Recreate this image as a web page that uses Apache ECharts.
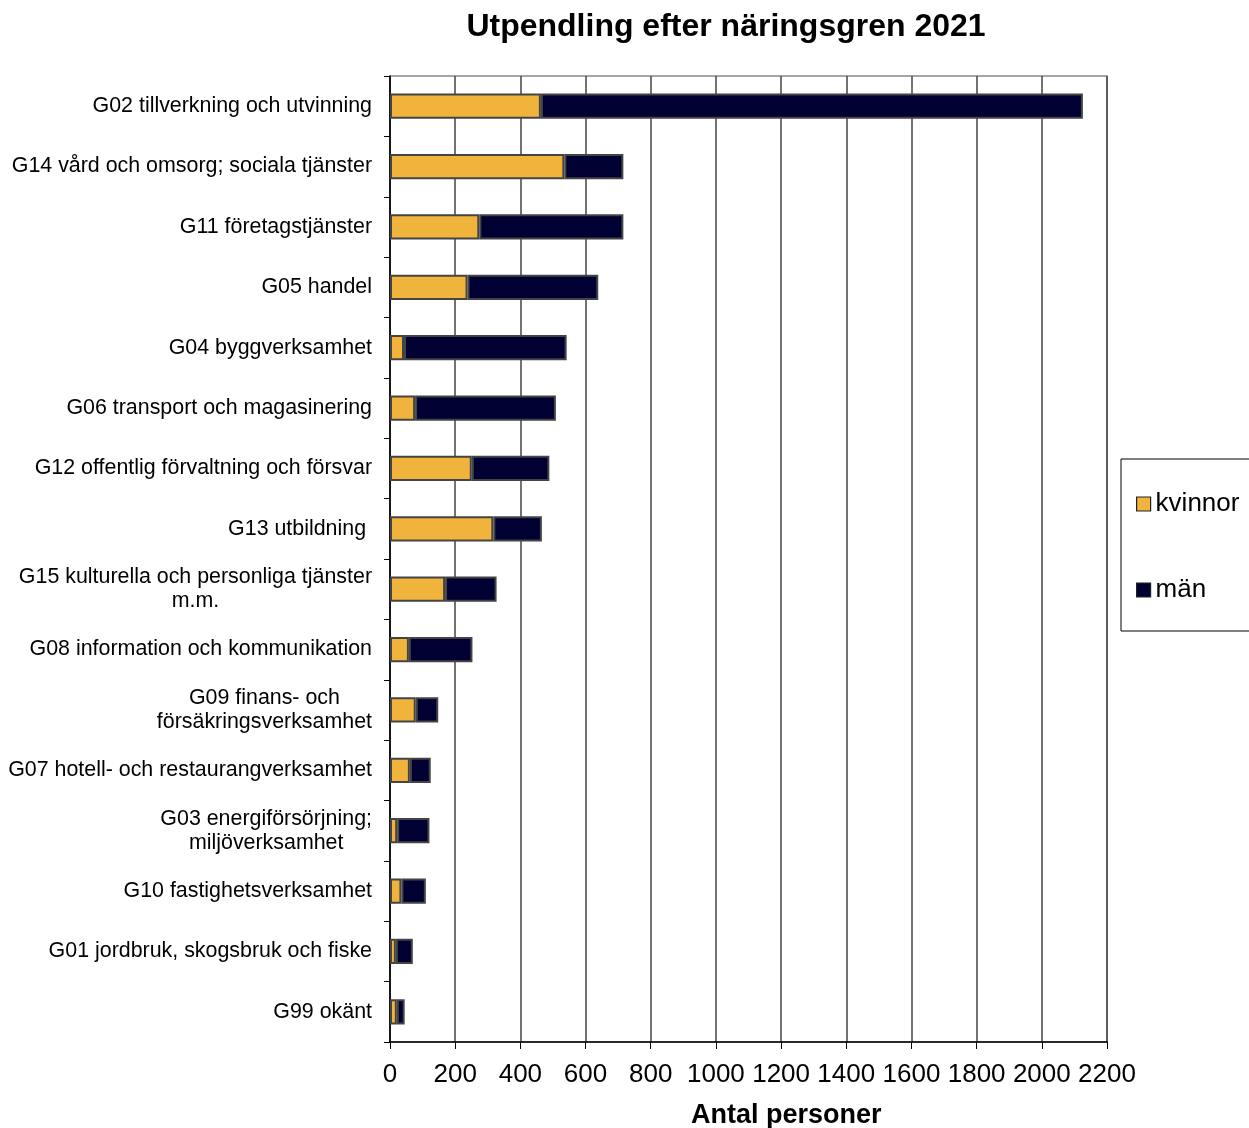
<!DOCTYPE html>
<html><head><meta charset="utf-8">
<script src="https://cdn.jsdelivr.net/npm/echarts@6/dist/echarts.min.js"></script>
<style>html,body{margin:0;padding:0;background:#fff}#c{width:1249px;height:1128px}</style>
</head><body><div id="c"></div>
<script>
const categories = [
  "G02 tillverkning och utvinning",
  "G14 vård och omsorg; sociala tjänster",
  "G11 företagstjänster",
  "G05 handel",
  "G04 byggverksamhet",
  "G06 transport och magasinering",
  "G12 offentlig förvaltning och försvar",
  "G13 utbildning ",
  "G15 kulturella och personliga tjänster\nm.m.",
  "G08 information och kommunikation",
  "G09 finans- och\nförsäkringsverksamhet",
  "G07 hotell- och restaurangverksamhet",
  "G03 energiförsörjning;\nmiljöverksamhet",
  "G10 fastighetsverksamhet",
  "G01 jordbruk, skogsbruk och fiske",
  "G99 okänt"
];
const kvinnor = [463, 535, 274, 238, 43, 77, 251, 317, 169, 58, 79, 61, 22, 35, 18, 21];
const man = [1663, 181, 442, 401, 499, 432, 238, 149, 158, 195, 69, 64, 99, 75, 52, 24];
const xTicks = {min: 0, max: 2200, interval: 200};

const chart = echarts.init(document.getElementById('c'));
const FONT = 'Liberation Sans, Arial, sans-serif';
chart.setOption({
  animation: false,
  backgroundColor: '#fff',
  title: {
    text: 'Utpendling efter näringsgren 2021',
    left: 721, top: 6, textAlign: 'center',
    textStyle: {fontFamily: FONT, fontSize: 32, fontWeight: 'bold', color: '#000'}
  },
  legend: {
    orient: 'vertical',
    left: 1121, top: 459,
    width: 140,
    padding: [32, 40, 28, 15],
    itemGap: 60,
    itemWidth: 14, itemHeight: 14,
    borderColor: '#000', borderWidth: 1,
    icon: 'rect',
    itemStyle: {borderColor: '#222', borderWidth: 1.2},
    textStyle: {fontFamily: FONT, fontSize: 26, color: '#000'},
    data: ['kvinnor', 'män']
  },
  grid: {left: 390, top: 76, right: 142, bottom: 86, show: true, borderColor: '#888', borderWidth: 1.5},
  xAxis: {
    type: 'value', min: xTicks.min, max: xTicks.max, interval: xTicks.interval,
    axisLine: {show: true, lineStyle: {color: '#000', width: 1.5}},
    axisTick: {show: true, length: 7, lineStyle: {color: '#000'}},
    splitLine: {show: true, lineStyle: {color: '#444', width: 1.5}},
    axisLabel: {fontFamily: FONT, fontSize: 26, color: '#000', margin: 20,
      formatter: function (v) { return String(v); }}
  },
  yAxis: {
    type: 'category', data: categories, inverse: true,
    axisLine: {show: true, lineStyle: {color: '#000', width: 1.5}},
    axisTick: {show: true, length: 6, lineStyle: {color: '#000'}},
    axisLabel: {
      fontFamily: FONT, fontSize: 21.4, color: '#000', margin: 18,
      formatter: function (v) {
        const parts = v.split('\n');
        if (parts.length === 1) return v;
        return parts.map(p => '{c|' + p + '}').join('\n');
      },
      rich: {c: {align: 'center', fontFamily: FONT, fontSize: 21.4, color: '#000', lineHeight: 24}}
    }
  },
  series: [
    {name: 'kvinnor', type: 'bar', stack: 's', data: kvinnor, barCategoryGap: '58%',
     itemStyle: {color: '#F0B43C', borderColor: '#444', borderWidth: 2}},
    {name: 'män', type: 'bar', stack: 's', data: man, barCategoryGap: '58%',
     itemStyle: {color: '#000033', borderColor: '#444', borderWidth: 2}}
  ],
  graphic: [{
    type: 'text', left: 691, top: 1102,
    style: {text: 'Antal personer', fontFamily: FONT, fontSize: 27, fontWeight: 'bold', fill: '#000'}
  }]
});
</script></body></html>
